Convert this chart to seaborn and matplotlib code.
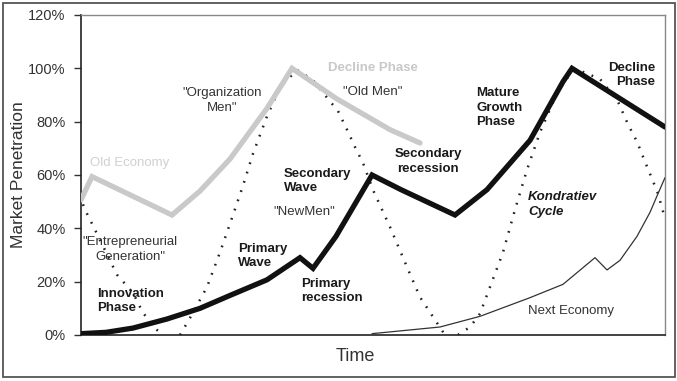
import matplotlib
matplotlib.use("Agg")
import matplotlib.pyplot as plt
from matplotlib.patches import Rectangle
from matplotlib.ticker import FuncFormatter
import seaborn as sns
import pandas as pd

# ---- data (x = time units, y = market penetration %) ----
old_x = [0, 11, 91, 119, 149, 186, 211, 256, 309, 339]
old_y = [50.7, 59.4, 45, 54, 66, 85, 100, 88.5, 77, 72]

main_x = [0, 25, 52, 86, 119, 150, 186, 219, 232, 255, 291, 320, 374, 406, 449, 482, 491, 584]
main_y = [0.5, 1, 2.6, 6, 10, 15, 20.7, 29, 25, 37, 60, 54.5, 45, 54.5, 73, 95, 100, 78]

next_x = [291, 359, 399, 449, 482, 514, 526, 539, 556, 569, 577, 584]
next_y = [0.5, 3, 7, 14, 19, 29, 24.4, 28, 37, 46, 53, 59]

k1_x = [2, 4, 12, 36, 52, 62, 76, 82]
k1_y = [49, 47, 41, 22.6, 15.8, 8.3, 1.9, 0]

k2_x = [99, 109, 126, 139, 152, 162, 172, 186, 199, 216, 232, 246, 257, 266, 274, 282, 292, 309, 326, 339, 364]
k2_y = [0, 6.4, 18, 31, 45, 56, 68, 82, 93, 99.4, 95.6, 89, 84, 77, 70.5, 64.5, 54.4, 40.5, 25.5, 14.2, 0]

k3_x = [377, 389, 399, 409, 422, 434, 446, 459, 474, 485, 496, 519, 537, 547, 556, 564, 571, 577, 583]
k3_y = [0, 3, 8, 18, 31, 47, 62, 76, 89, 96, 99.6, 96, 87.5, 79, 72.5, 65, 58.6, 53, 45]

y_ticks = [0, 20, 40, 60, 80, 100, 120]
x_label = "Time"
y_label = "Market Penetration"

sns.set_style("white")
plt.rcParams["font.family"] = ["Liberation Sans", "DejaVu Sans"]

fig = plt.figure(figsize=(6.77, 3.81), dpi=100)
ax = fig.add_axes([81 / 677, 1 - 335 / 381, 584 / 677, 320 / 381])

dot_style = dict(color="#222222", linewidth=1.8, linestyle=(0, (0.7, 3.2)),
                 estimator=None, sort=False, legend=False)
for kx, ky in [(k1_x, k1_y), (k2_x, k2_y), (k3_x, k3_y)]:
    sns.lineplot(x=kx, y=ky, ax=ax, zorder=2, **dot_style)

sns.lineplot(x=old_x, y=old_y, ax=ax, color="#c9c9c9", linewidth=3.8,
             estimator=None, sort=False, legend=False, zorder=3,
             solid_joinstyle="miter")
sns.lineplot(x=next_x, y=next_y, ax=ax, color="#333333", linewidth=0.9,
             estimator=None, sort=False, legend=False, zorder=3)
sns.lineplot(x=main_x, y=main_y, ax=ax, color="#111111", linewidth=3.8,
             estimator=None, sort=False, legend=False, zorder=4,
             solid_joinstyle="miter")

ax.set_xlim(0, 584)
ax.set_ylim(0, 120)
ax.set_yticks(y_ticks)
ax.yaxis.set_major_formatter(FuncFormatter(lambda v, p: f"{v:.0f}%"))
ax.set_xticks([])
ax.tick_params(axis="y", left=True, length=5, width=1, color="#333333",
               labelsize=10.5, labelcolor="#333333", pad=6)
ax.set_xlabel(x_label, fontsize=13, color="#333333")
ax.set_ylabel(y_label, fontsize=12.5, color="#333333")
ax.xaxis.set_label_coords((355 - 81) / 584, -(348 - 335) / 320)
ax.yaxis.set_label_coords(-(81 - 26) / 584, (335 - 175) / 320)

for side in ["left", "bottom"]:
    ax.spines[side].set_color("#222222")
    ax.spines[side].set_linewidth(1.2)
for side in ["top", "right"]:
    ax.spines[side].set_color("#888888")
    ax.spines[side].set_linewidth(1.0)

bold = dict(fontsize=9.5, fontweight="bold", color="#1a1a1a", linespacing=1.3, va="center")
norm = dict(fontsize=9.5, color="#333333", linespacing=1.3, va="center")

ax.text(9, 64.5, "Old Economy", ha="left", fontsize=9.5, color="#d0d0d0", va="center")
ax.text(141, 88, "\"Organization\nMen\"", ha="center", **norm)
ax.text(247, 100, "Decline Phase", ha="left", fontsize=9.5, fontweight="bold",
        color="#c8c8c8", va="center")
ax.text(262, 91, "\"Old Men\"", ha="left", **norm)
ax.text(395, 85.3, "Mature\nGrowth\nPhase", ha="left", **bold)
ax.text(574, 97.5, "Decline\nPhase", ha="right", multialignment="right", **bold)
ax.text(347, 65, "Secondary\nrecession", ha="center", **bold)
ax.text(203, 57.7, "Secondary\nWave", ha="left", **bold)
ax.text(192, 46, "\"NewMen\"", ha="left", **norm)
ax.text(447, 49, "Kondratiev\nCycle", ha="left", fontstyle="italic", **bold)
ax.text(447, 9, "Next Economy", ha="left", **norm)
ax.text(157, 29.6, "Primary\nWave", ha="left", **bold)
ax.text(220, 16.5, "Primary\nrecession", ha="left", **bold)
ax.text(49, 32, "\"Entrepreneurial\nGeneration\"", ha="center", **norm)
ax.text(16, 12.7, "Innovation\nPhase", ha="left", **bold)

fig.patches.append(Rectangle((3 / 677, 4 / 381), 672 / 677, 374 / 381,
                             transform=fig.transFigure, fill=False,
                             edgecolor="#555555", linewidth=1.3))

fig.savefig("out.png", dpi=100)
